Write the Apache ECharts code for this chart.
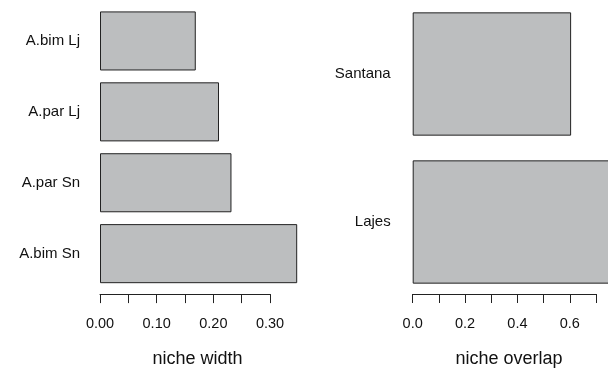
<!DOCTYPE html>
<html><head><meta charset="utf-8">
<script src="https://cdn.jsdelivr.net/npm/echarts@6/dist/echarts.min.js"></script>
<style>html,body{margin:0;padding:0;background:#fff}#c{width:608px;height:369px}</style>
</head><body><div id="c"></div>
<script>
// Left panel: niche width
const widthCategories = ['A.bim Sn', 'A.par Sn', 'A.par Lj', 'A.bim Lj'];
const nicheWidth = [0.348, 0.232, 0.210, 0.169];
const widthTickLabels = [0.00, 0.10, 0.20, 0.30];
// Right panel: niche overlap
const overlapCategories = ['Lajes', 'Santana'];
const nicheOverlap = [0.75, 0.605];
const overlapTickLabels = [0.0, 0.2, 0.4, 0.6];

const FONT = 'Liberation Sans, Arial, sans-serif';
const TXT = '#111';
const LINE = '#222';

function labelFmt(list, digits) {
  return function (v) {
    for (const t of list) { if (Math.abs(t - v) < 1e-6) return t.toFixed(digits); }
    return '';
  };
}

const chart = echarts.init(document.getElementById('c'), null, {renderer: 'canvas'});
const xAxisCommon = {
  type: 'value', min: 0,
  axisLine: {show: true, lineStyle: {color: LINE, width: 1}},
  axisTick: {show: true, length: 9, lineStyle: {color: LINE, width: 1}},
  splitLine: {show: false},
  axisLabel: {color: TXT, fontSize: 14.5, fontFamily: FONT, margin: 22, showMinLabel: true, showMaxLabel: true}
};
const yAxisCommon = {
  type: 'category',
  axisLine: {show: false}, axisTick: {show: false}, splitLine: {show: false},
};
const barStyle = {color: '#bcbebf', borderColor: LINE, borderWidth: 1};

chart.setOption({
  animation: false,
  backgroundColor: '#fff',
  grid: [
    {left: 100, width: 170, top: 5.5, height: 283.6},
    {left: 412.7, width: 183.3, top: -1, height: 297}
  ],
  xAxis: [
    Object.assign({}, xAxisCommon, {gridIndex: 0, max: 0.3, interval: 0.05, offset: 5,
      axisLabel: Object.assign({}, xAxisCommon.axisLabel, {formatter: labelFmt(widthTickLabels, 2)})}),
    Object.assign({}, xAxisCommon, {gridIndex: 1, max: 0.7, interval: 0.1, offset: -2,
      axisLabel: Object.assign({}, xAxisCommon.axisLabel, {formatter: labelFmt(overlapTickLabels, 1)})})
  ],
  yAxis: [
    Object.assign({}, yAxisCommon, {gridIndex: 0, data: widthCategories,
      axisLabel: {color: TXT, fontSize: 15, fontFamily: FONT, margin: 20}}),
    Object.assign({}, yAxisCommon, {gridIndex: 1, data: overlapCategories,
      axisLabel: {color: TXT, fontSize: 15, fontFamily: FONT, margin: 22}})
  ],
  series: [
    {type: 'bar', xAxisIndex: 0, yAxisIndex: 0, data: nicheWidth, barCategoryGap: '16.7%',
      clip: false, itemStyle: barStyle, silent: true},
    {type: 'bar', xAxisIndex: 1, yAxisIndex: 1, data: nicheOverlap, barCategoryGap: '16.7%',
      clip: false, itemStyle: barStyle, silent: true}
  ],
  graphic: [
    {type: 'text', x: 197.5, y: 359, style: {text: 'niche width', fontSize: 18, fontFamily: FONT,
      fill: TXT, textAlign: 'center', textVerticalAlign: 'middle'}},
    {type: 'text', x: 509, y: 359, style: {text: 'niche overlap', fontSize: 18, fontFamily: FONT,
      fill: TXT, textAlign: 'center', textVerticalAlign: 'middle'}}
  ]
});
</script>
</body></html>
